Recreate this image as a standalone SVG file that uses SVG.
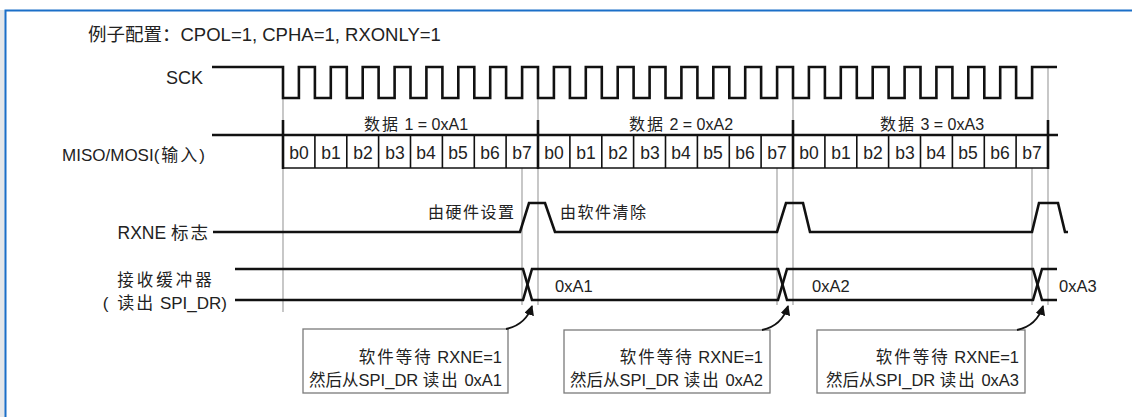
<svg xmlns="http://www.w3.org/2000/svg" width="1132" height="417" viewBox="0 0 1132 417">
<defs>
<style>
.t{font-family:"Liberation Sans","Noto Sans CJK SC",sans-serif;fill:#222}
.c{letter-spacing:2px}
.w{fill:none;stroke:#111;stroke-width:2.6;stroke-linejoin:miter}
.g{stroke:#9a9a9a;stroke-width:1.1}
.cell{stroke:#111;stroke-width:1.6}
.tick{stroke:#111;stroke-width:2.6}
.box{fill:#fff;stroke:#7a7a7a;stroke-width:1.3}
.arr{fill:none;stroke:#111;stroke-width:1.8}
</style>
<marker id="ah" viewBox="0 0 10 10" refX="9" refY="5" markerWidth="10" markerHeight="10" markerUnits="userSpaceOnUse" orient="auto">
<path d="M0,0 L10,5 L0,10 Z" fill="#111"/>
</marker>
</defs>
<rect x="0" y="0" width="1132" height="417" fill="#fff"/>
<rect x="0" y="10" width="5" height="407" fill="#e4e7ea"/>
<rect x="5.5" y="10.5" width="1140" height="420" fill="none" stroke="#1b6fc8" stroke-width="2"/>

<text class="t" x="88" y="41" font-size="18.5">例子配置：CPOL=1, CPHA=1, RXONLY=1</text>

<g id="guides">
<line class="g" x1="283" y1="98" x2="283" y2="312"/>
<line class="g" x1="538" y1="98" x2="538" y2="305"/>
<line class="g" x1="793" y1="98" x2="793" y2="305"/>
<line class="g" x1="1048" y1="67" x2="1048" y2="305"/>
<line class="g" x1="522" y1="168" x2="522" y2="305"/>
<line class="g" x1="777" y1="168" x2="777" y2="305"/>
<line class="g" x1="1032" y1="168" x2="1032" y2="305"/>
</g>

<g id="sck">
<text class="t" x="203" y="84" font-size="18" text-anchor="end">SCK</text>
<path class="w" d="M212,67 H283 V98 H298.9 V67 H314.9 V98 H330.8 V67 H346.8 V98 H362.7 V67 H378.6 V98 H394.6 V67 H410.5 V98 H426.4 V67 H442.4 V98 H458.3 V67 H474.3 V98 H490.2 V67 H506.1 V98 H522.1 V67 H538 V98 H553.9 V67 H569.9 V98 H585.8 V67 H601.8 V98 H617.7 V67 H633.6 V98 H649.6 V67 H665.5 V98 H681.4 V67 H697.4 V98 H713.3 V67 H729.3 V98 H745.2 V67 H761.1 V98 H777.1 V67 H793 V98 H808.9 V67 H824.9 V98 H840.8 V67 H856.8 V98 H872.7 V67 H888.6 V98 H904.6 V67 H920.5 V98 H936.4 V67 H952.4 V98 H968.3 V67 H984.3 V98 H1000.2 V67 H1016.1 V98 H1032.1 V67 H1057"/>
</g>

<g id="miso">
<text class="t" x="207" y="161" font-size="17" text-anchor="end">MISO/MOSI<tspan class="c">(输入)</tspan></text>
<text class="t" x="364" y="130" font-size="16"><tspan class="c">数据</tspan> 1 = 0xA1</text>
<text class="t" x="629" y="130" font-size="16"><tspan class="c">数据</tspan> 2 = 0xA2</text>
<text class="t" x="880" y="130" font-size="16"><tspan class="c">数据</tspan> 3 = 0xA3</text>
<line class="tick" x1="212" y1="135" x2="1058" y2="135"/>
<line class="cell" x1="283" y1="168" x2="1048" y2="168"/>
<line class="tick" x1="283" y1="120" x2="283" y2="169"/>
<line class="tick" x1="538" y1="120" x2="538" y2="169"/>
<line class="tick" x1="793" y1="120" x2="793" y2="169"/>
<line class="tick" x1="1048" y1="120" x2="1048" y2="169"/>
<path class="cell" d="M314.9,135V168 M346.8,135V168 M378.6,135V168 M410.5,135V168 M442.4,135V168 M474.3,135V168 M506.1,135V168 M569.9,135V168 M601.8,135V168 M633.6,135V168 M665.5,135V168 M697.4,135V168 M729.3,135V168 M761.1,135V168 M824.9,135V168 M856.8,135V168 M888.6,135V168 M920.5,135V168 M952.4,135V168 M984.3,135V168 M1016.1,135V168"/>
<g class="t" font-size="17.5" text-anchor="middle">
<text x="299" y="159">b0</text><text x="331" y="159">b1</text><text x="363" y="159">b2</text><text x="395" y="159">b3</text><text x="426" y="159">b4</text><text x="458" y="159">b5</text><text x="490" y="159">b6</text><text x="522" y="159">b7</text>
<text x="554" y="159">b0</text><text x="586" y="159">b1</text><text x="618" y="159">b2</text><text x="650" y="159">b3</text><text x="681" y="159">b4</text><text x="713" y="159">b5</text><text x="745" y="159">b6</text><text x="777" y="159">b7</text>
<text x="809" y="159">b0</text><text x="841" y="159">b1</text><text x="873" y="159">b2</text><text x="905" y="159">b3</text><text x="936" y="159">b4</text><text x="968" y="159">b5</text><text x="1000" y="159">b6</text><text x="1032" y="159">b7</text>
</g>
</g>

<g id="rxne">
<text class="t" x="210" y="239" font-size="17.5" text-anchor="end">RXNE <tspan class="c">标志</tspan></text>
<path class="w" d="M213,232 H520 L529,203 H545 L555,232 H777 L786,203 H803 L810,232 H1032 L1039,203 H1058 L1065,232 H1068"/>
<text class="t" x="428" y="218" font-size="16" letter-spacing="1.5">由硬件设置</text>
<text class="t" x="560" y="218" font-size="16" letter-spacing="1.5">由软件清除</text>
</g>

<g id="buffer">
<text class="t" x="166" y="286" font-size="16.5" text-anchor="middle" letter-spacing="3">接收缓冲器</text>
<text class="t" x="227" y="309" font-size="17" text-anchor="end"><tspan class="c">( 读出</tspan> SPI_DR)</text>
<path class="w" d="M235,269 H523 L532,300 H778 L787,269 H1033 L1042,300 H1057"/>
<path class="w" d="M235,300 H523 L532,269 H778 L787,300 H1033 L1042,269 H1057"/>
<text class="t" x="555" y="292" font-size="16.5">0xA1</text>
<text class="t" x="812" y="292" font-size="16.5">0xA2</text>
<text class="t" x="1059" y="292" font-size="16.5">0xA3</text>
</g>

<g id="box1">
<rect class="box" x="303" y="329" width="205" height="64"/>
<text class="t" x="502" y="363" font-size="16.5" text-anchor="end"><tspan class="c">软件等待</tspan> RXNE=1</text>
<text class="t" x="502" y="386" font-size="16.5" text-anchor="end">然后从SPI_DR <tspan class="c">读出</tspan> 0xA1</text>
</g>
<g id="box2">
<rect class="box" x="564" y="330" width="206" height="63"/>
<text class="t" x="763" y="363" font-size="16.5" text-anchor="end"><tspan class="c">软件等待</tspan> RXNE=1</text>
<text class="t" x="763" y="386" font-size="16.5" text-anchor="end">然后从SPI_DR <tspan class="c">读出</tspan> 0xA2</text>
</g>
<g id="box3">
<rect class="box" x="817" y="330" width="208" height="63"/>
<text class="t" x="1019" y="363" font-size="16.5" text-anchor="end"><tspan class="c">软件等待</tspan> RXNE=1</text>
<text class="t" x="1019" y="386" font-size="16.5" text-anchor="end">然后从SPI_DR <tspan class="c">读出</tspan> 0xA3</text>
</g>

<g id="connectors">
<path class="arr" d="M506,329 C520,326 528,318 532,306" marker-end="url(#ah)"/>
<path class="arr" d="M762,330 C776,327 784,319 788,306" marker-end="url(#ah)"/>
<path class="arr" d="M1017,330 C1031,327 1039,319 1043,306" marker-end="url(#ah)"/>
</g>
</svg>
